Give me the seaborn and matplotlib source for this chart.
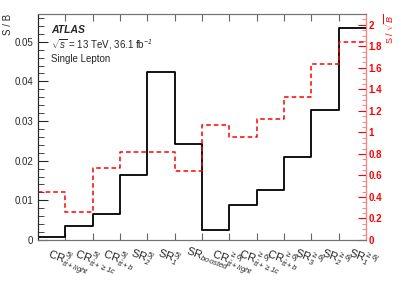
import numpy as np
import pandas as pd
import seaborn as sns
import matplotlib.pyplot as plt
from matplotlib.ticker import MultipleLocator, FuncFormatter

# region labels
regions = [r'CR$^{5j}_{t\bar{t}+light}$', r'CR$^{5j}_{t\bar{t}+\geq 1c}$', r'CR$^{5j}_{t\bar{t}+b}$',
           r'SR$^{5j}_{2}$', r'SR$^{5j}_{1}$', r'SR$_{boosted}$',
           r'CR$^{\geq 6j}_{t\bar{t}+light}$', r'CR$^{\geq 6j}_{t\bar{t}+\geq 1c}$', r'CR$^{\geq 6j}_{t\bar{t}+b}$',
           r'SR$^{\geq 6j}_{3}$', r'SR$^{\geq 6j}_{2}$', r'SR$^{\geq 6j}_{1}$']
s_over_b = [0.00084, 0.0036, 0.0065, 0.0165, 0.0424, 0.0243,
            0.0026, 0.0088, 0.0125, 0.0210, 0.0329, 0.0534]
s_over_sqrtb = [0.446, 0.26, 0.666, 0.816, 0.82, 0.64,
                1.066, 0.953, 1.128, 1.33, 1.635, 1.84]

sns.set_style('ticks')
plt.rcParams['font.family'] = ['Liberation Sans', 'DejaVu Sans']
plt.rcParams['mathtext.fontset'] = 'custom'
plt.rcParams['mathtext.rm'] = 'Liberation Sans:italic'
plt.rcParams['mathtext.it'] = 'Liberation Sans:italic'

fig = plt.figure(figsize=(3.99, 2.86), dpi=100)
ax = fig.add_axes([38 / 399, 1 - 240 / 286, 328 / 399, 226 / 286])
ax2 = ax.twinx()

n = len(regions)
centers = np.arange(n) + 0.5
edges = np.arange(n + 1)
df = pd.DataFrame({'bin': centers, 'sb': s_over_b, 'ssqrtb': s_over_sqrtb})

sns.histplot(data=df, x='bin', weights='sb', bins=n, binrange=(0, n), element='step', fill=False,
             color='black', linewidth=1.3, ax=ax)
sns.histplot(data=df, x='bin', weights='ssqrtb', bins=n, binrange=(0, n), element='step', fill=False,
             color='red', linewidth=1.1, linestyle=(0, (3, 2)), ax=ax2)

ax.set_xlim(0, n)
ax.set_ylim(0, 0.057)
ax2.set_ylim(0, 2.1)

# bin edge ticks, labels at bin centres
ax.set_xticks(edges[1:-1])
ax.set_xticklabels([])
ax.set_xticks(centers, minor=True)
ax.set_xticklabels(regions, minor=True, rotation=-20, ha='left', rotation_mode='anchor', fontsize=8)
ax.tick_params(axis='x', which='major', direction='in', length=5, top=True, color='0.4')
ax.tick_params(axis='x', which='minor', length=0, pad=3)

ax.yaxis.set_major_locator(MultipleLocator(0.01))
ax.yaxis.set_minor_locator(MultipleLocator(0.002))
ax.yaxis.set_major_formatter(FuncFormatter(lambda v, p: f'{v:g}'))
ax.tick_params(axis='y', which='major', direction='in', length=7, labelsize=7)
ax.tick_params(axis='y', which='minor', direction='in', length=4)

ax2.yaxis.set_major_locator(MultipleLocator(0.2))
ax2.yaxis.set_minor_locator(MultipleLocator(0.05))
ax2.yaxis.set_major_formatter(FuncFormatter(lambda v, p: f'{v:g}'))
ax2.tick_params(axis='y', which='major', direction='in', length=6, labelsize=7, pad=2,
                colors='red', labelcolor='red')
ax2.tick_params(axis='y', which='minor', direction='in', length=3, colors='#ff7070')
for lbl in ax2.get_yticklabels():
    lbl.set_fontweight('bold')

for side in ['top', 'bottom']:
    ax.spines[side].set_color('0.45')
ax2.spines['right'].set_color('#ff8080')
ax2.spines['top'].set_color('0.45')
ax2.spines['bottom'].set_color('0.45')

ax.set_xlabel('')
ax.set_ylabel('S / B', loc='top', fontsize=7, labelpad=1)
ax2.set_ylabel(r'S / $\sqrt{\mathrm{B}}$', loc='top', fontsize=6.5, color='red', labelpad=0)

ax.text(0.04, 0.93, 'ATLAS', transform=ax.transAxes, fontsize=7.5,
        fontweight='bold', fontstyle='italic', va='center')
ax.text(0.04, 0.865, r'$\sqrt{\mathrm{s}}$ = 13 TeV, 36.1 fb$^{\mathrm{-1}}$', transform=ax.transAxes,
        fontsize=7, va='center')
ax.text(0.04, 0.80, 'Single Lepton', transform=ax.transAxes, fontsize=7, va='center')

fig.savefig('out.png', dpi=100)
